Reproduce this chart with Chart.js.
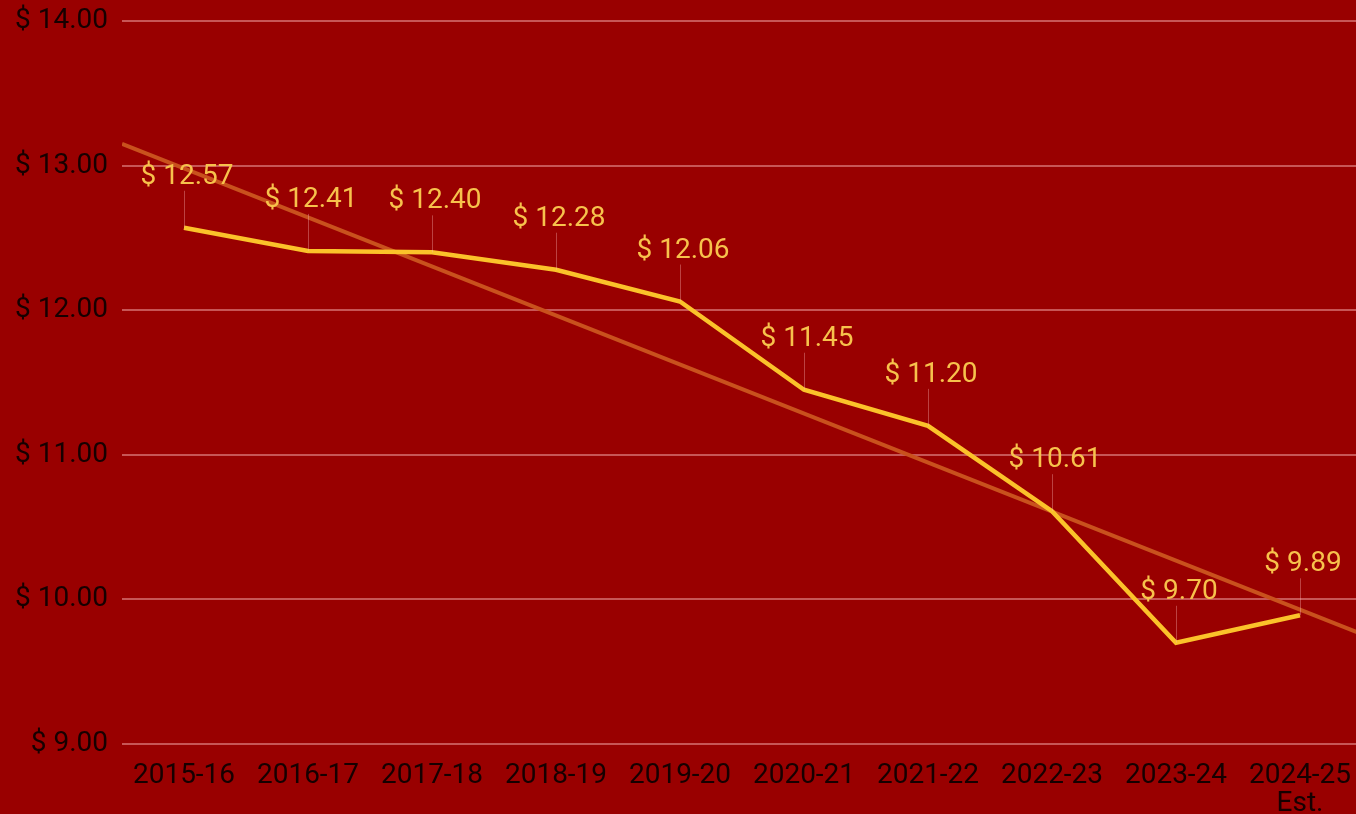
<!DOCTYPE html>
<html>
<head>
<meta charset="utf-8">
<script src="https://cdn.jsdelivr.net/npm/chart.js@4"></script>
<style>
  html, body { margin: 0; padding: 0; background: #990000; overflow: hidden; }
  canvas { display: block; }
</style>
</head>
<body>
<canvas id="costChart" width="1362" height="814"></canvas>
<script>
// 연도별 값
const years = ['2015-16', '2016-17', '2017-18', '2018-19', '2019-20', '2020-21', '2021-22', '2022-23', '2023-24', ['2024-25', 'Est.']];
const costs = [12.57, 12.41, 12.40, 12.28, 12.06, 11.45, 11.20, 10.61, 9.70, 9.89];
// 추세선 (그림에서 읽은 양 끝 값)
const trendX = [-0.5, 9.5];
const trendY = [13.15, 9.76];
const yTicks = [9, 10, 11, 12, 13, 14];

const money = v => '$ ' + v.toFixed(2);

// 데이터 라벨 + 지시선
const labelPlugin = {
    id: 'pointLabels',
    afterDatasetsDraw(chart) {
        const ctx = chart.ctx;
        const meta = chart.getDatasetMeta(1);
        ctx.save();
        meta.data.forEach((pt, i) => {
            ctx.strokeStyle = 'rgba(255, 190, 190, 0.35)';
            ctx.lineWidth = 1;
            ctx.beginPath();
            ctx.moveTo(pt.x + 0.5, pt.y);
            ctx.lineTo(pt.x + 0.5, pt.y - 37);
            ctx.stroke();
            ctx.fillStyle = '#f7c24c';
            ctx.font = '28px Roboto';
            ctx.textAlign = 'center';
            ctx.textBaseline = 'middle';
            ctx.fillText(money(costs[i]), pt.x + 3, pt.y - 51);
        });
        ctx.restore();
    }
};

const ctx = document.getElementById('costChart').getContext('2d');
new Chart(ctx, {
    type: 'line',
    data: {
        labels: years,
        datasets: [{
            label: 'trend',
            xAxisID: 'xt',
            data: trendX.map((x, i) => ({ x: x, y: trendY[i] })),
            borderColor: '#c9511d',
            borderWidth: 4,
            pointRadius: 0,
            order: 2
        }, {
            label: 'cost',
            data: costs,
            borderColor: '#fbc22a',
            borderWidth: 4.5,
            pointRadius: 0,
            tension: 0,
            order: 1
        }]
    },
    options: {
        responsive: false,
        animation: false,
        layout: { padding: { top: 21, right: 0, bottom: 0, left: 0 } },
        plugins: {
            legend: { display: false },
            tooltip: { enabled: false }
        },
        scales: {
            x: {
                type: 'category',
                offset: true,
                grid: { display: false },
                border: { display: false },
                ticks: {
                    color: '#160000',
                    font: { family: 'Roboto', size: 28, lineHeight: 1.0 },
                    padding: 10,
                    maxRotation: 0,
                    autoSkip: false
                },
                afterFit(scale) { scale.height = 70; }
            },
            xt: {
                type: 'linear',
                display: false,
                min: -0.5,
                max: 9.5
            },
            y: {
                min: 9,
                max: 14,
                afterBuildTicks(scale) { scale.ticks = yTicks.map(v => ({ value: v })); },
                grid: { color: 'rgba(255, 190, 190, 0.45)', lineWidth: 2, drawTicks: false },
                border: { display: false },
                ticks: {
                    color: '#160000',
                    font: { family: 'Roboto', size: 28 },
                    padding: 14,
                    callback: v => money(v)
                },
                afterFit(scale) {
                    scale.width = 122;
                    scale.paddingTop = 0;
                    scale.paddingBottom = 0;
                }
            }
        }
    },
    plugins: [labelPlugin]
});
</script>
</body>
</html>
